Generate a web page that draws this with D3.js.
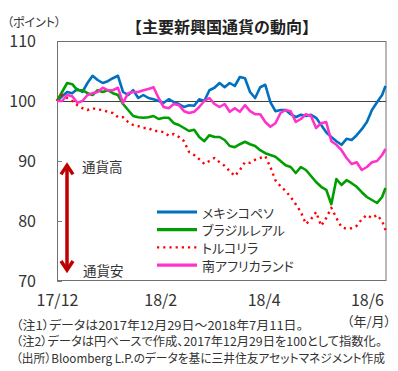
<!DOCTYPE html>
<html>
<head>
<meta charset="utf-8">
<script src="https://cdn.jsdelivr.net/npm/d3@7"></script>
<style>
  body { margin: 0; background: #fff; }
  text { font-family: "Noto Sans CJK JP", "Noto Sans", sans-serif; fill: #333; }
  .palt { font-feature-settings: "palt"; }
</style>
</head>
<body>
<div id="chart"></div>
<script>
// Data (index, 2017/12/29 = 100)
const dates = [
  "2017-12-29","2018-01-01","2018-01-04","2018-01-07","2018-01-10","2018-01-13","2018-01-16","2018-01-19",
  "2018-01-22","2018-01-25","2018-01-28","2018-01-31","2018-02-03","2018-02-06","2018-02-09","2018-02-12",
  "2018-02-15","2018-02-18","2018-02-21","2018-02-24","2018-02-27","2018-03-02","2018-03-05","2018-03-08",
  "2018-03-11","2018-03-14","2018-03-17","2018-03-20","2018-03-23","2018-03-26","2018-03-29","2018-04-01",
  "2018-04-04","2018-04-07","2018-04-10","2018-04-13","2018-04-16","2018-04-19","2018-04-22","2018-04-25",
  "2018-04-28","2018-05-01","2018-05-04","2018-05-07","2018-05-10","2018-05-13","2018-05-16","2018-05-19",
  "2018-05-22","2018-05-25","2018-05-28","2018-05-31","2018-06-03","2018-06-06","2018-06-09","2018-06-12",
  "2018-06-15","2018-06-18","2018-06-21","2018-06-24","2018-06-27","2018-06-30","2018-07-03","2018-07-06",
  "2018-07-09","2018-07-11"
];

const mexicoPeso = [
  100, 100.8, 101.5, 101.3, 102, 101.5, 103, 104.2, 103.5, 103, 103.3, 103.8, 104.2, 101.5, 101,
  101.8, 100.5, 101, 100.5, 100.3, 100, 99.7, 100.3, 99.8, 99.5,
  99, 99.3, 99.2, 100.3, 100, 101.8, 102.2, 103, 102.3, 103, 102.5, 104, 103.8, 101.5, 100.5,
  102.3, 102.7, 99.8, 98.3, 98.5, 98.5, 97.8, 97.3, 97.7, 97.5, 97.7, 97.2, 96, 94.8,
  94, 93.3, 92.7, 93.7, 93.5, 94.3, 95.3, 96.5, 98.5, 99.8, 101, 102.5
];
const brazilReal = [
  100, 101.5, 103, 102.8, 101.8, 101.8, 101.3, 101, 101.8, 101.5, 101.8, 101.3, 101, 99.5, 98.5,
  97.5, 97.3, 97.2, 97.3, 97.5, 97, 97.2, 97.2, 96.3, 96,
  95.5, 95, 95.2, 94, 93.3, 94.3, 94, 94, 93.5, 92.5, 92.3, 92.8, 93.2, 92.8, 92.5,
  91.8, 91.3, 91, 90.7, 90, 89.3, 89, 88, 89, 88.5, 87.5, 86.5, 85.7, 85.2,
  82.8, 87, 86, 86.8, 86.3, 85.7, 84.8, 84, 83.5, 83, 84, 85.5
];
const turkeyLira = [
  100, 101, 100.5, 100, 99.3, 98.8, 98.5, 98.8, 98.6, 98.5, 98.2, 98, 97.3, 97.3, 96.5,
  96, 95.8, 95.5, 95.5, 95, 95, 94.8, 94.2, 94.5, 94,
  93.3, 91.5, 91, 90.3, 89.5, 90, 90.5, 89.8, 89.2, 88.3, 87.5, 88.5, 89.8, 89.7, 90.2,
  90.5, 90.8, 89, 86.8, 85.8, 85, 84, 82.8, 81.5, 79.5, 80.3, 81.5, 79.2, 80.5,
  82.2, 80.5, 79, 78.7, 78.8, 79.2, 80.3, 81, 80.5, 81, 80, 78.5
];
const southAfricaRand = [
  100, 100, 101, 100.8, 99.7, 100, 101, 101.3, 101.5, 102.2, 101.8, 101.8, 102.2, 99.7, 101.3,
  101.5, 101.5, 101.8, 102, 102.3, 100.5, 99, 98.8, 99.5, 99.3,
  98.3, 98, 98.2, 99, 100, 100.5, 99.5, 99, 99.5, 98.2, 98.8, 98.2, 99.3, 98.3, 97.8,
  97.8, 96.5, 95.7, 96.3, 98, 98.5, 98.3, 96.5, 97, 97.8, 97.5, 95.5, 96.3, 96.5,
  93.3, 92.7, 91.8, 90.5, 89.5, 89.8, 88.5, 89, 89.8, 90, 91, 92
];

const seriesNames = ["メキシコペソ", "ブラジルレアル", "トルコリラ", "南アフリカランド"];
const seriesColors = ["#0070c0", "#009e00", "#ff0000", "#ff33cc"];
const yTicks = [70, 80, 90, 100, 110];
const xTickDates = ["2017-12-29", "2018-02-28", "2018-04-30", "2018-06-30"];
const xTickLabels = ["17/12", "18/2", "18/4", "18/6"];
const notes = [
  "（注1）データは2017年12月29日～2018年7月11日。",
  "（注2）データは円ベースで作成、2017年12月29日を100として指数化。",
  "（出所）Bloomberg L.P.のデータを基に三井住友アセットマネジメント作成"
];

const W = 398, H = 371;
const margin = { top: 41, right: 12, bottom: 90, left: 57 };
const parseDate = d3.timeParse("%Y-%m-%d");

const svg = d3.select("#chart").append("svg")
  .attr("width", W).attr("height", H);

const x = d3.scaleTime()
  .domain([parseDate(dates[0]), parseDate(dates[dates.length - 1])])
  .range([margin.left, W - margin.right - 0.5]);
const y = d3.scaleLinear()
  .domain([70, 110])
  .range([H - margin.bottom, margin.top]);

// title
svg.append("text")
  .attr("x", 222).attr("y", 26)
  .attr("text-anchor", "middle").attr("dominant-baseline", "central")
  .attr("font-size", 16).attr("font-weight", "bold")
  .style("fill", "#222")
  .text("【主要新興国通貨の動向】");

svg.append("text")
  .attr("class", "palt")
  .attr("x", 7).attr("y", 21)
  .attr("dominant-baseline", "central")
  .attr("font-size", 12)
  .text("（ポイント）");

// y axis labels + inner ticks
const yAxis = svg.append("g")
  .attr("transform", `translate(${margin.left},0)`)
  .call(d3.axisLeft(y).tickValues(yTicks).tickSizeInner(-5).tickSizeOuter(0).tickPadding(21));
yAxis.select(".domain").remove();
yAxis.selectAll("line").attr("stroke", "#808080");
yAxis.selectAll("text")
  .attr("font-size", 16)
  .attr("font-family", "Noto Sans CJK JP")
  .style("fill", "#333");

// plot frame
svg.append("rect")
  .attr("x", x.range()[0] + 0.5).attr("y", y(110) + 0.5)
  .attr("width", x.range()[1] - x.range()[0])
  .attr("height", y(70) - y(110) - 1)
  .attr("fill", "none").attr("stroke", "#707070").attr("stroke-width", 1);

// 100 reference line
svg.append("line")
  .attr("x1", x.range()[0]).attr("x2", x.range()[1] + 0.5)
  .attr("y1", Math.round(y(100)) + 0.5).attr("y2", Math.round(y(100)) + 0.5)
  .attr("stroke", "#404040").attr("stroke-width", 1.2);

// x axis labels
const xAxis = svg.append("g")
  .attr("transform", `translate(0,${y(70)})`)
  .call(d3.axisBottom(x)
    .tickValues(xTickDates.map(parseDate))
    .tickFormat((d, i) => xTickLabels[i])
    .tickSize(0).tickPadding(14));
xAxis.select(".domain").remove();
xAxis.selectAll("text")
  .attr("font-size", 16)
  .attr("font-family", "Noto Sans CJK JP")
  .style("fill", "#333");

svg.append("text")
  .attr("class", "palt")
  .attr("x", 391).attr("y", 320)
  .attr("text-anchor", "end").attr("dominant-baseline", "central")
  .attr("font-size", 13)
  .text("（年/月）");

// series
const allSeries = [mexicoPeso, brazilReal, turkeyLira, southAfricaRand];
const line = d3.line()
  .x((d, i) => x(parseDate(dates[i])))
  .y(d => y(d));

allSeries.forEach((vals, k) => {
  const p = svg.append("path")
    .datum(vals)
    .attr("fill", "none")
    .attr("stroke", seriesColors[k])
    .attr("stroke-linejoin", "round")
    .attr("d", line);
  if (k === 2) {
    p.attr("stroke-width", 2.4).attr("stroke-dasharray", "2.2,4");
  } else {
    p.attr("stroke-width", 2.6);
  }
});

// arrow 通貨高 / 通貨安
const ax = x.range()[0] + 10;
const aTop = y(89.6), aBot = y(71.5);
svg.append("line")
  .attr("x1", ax).attr("x2", ax).attr("y1", aTop + 2).attr("y2", aBot - 2)
  .attr("stroke", "#c00000").attr("stroke-width", 3.5);
svg.append("path")
  .attr("d", `M${ax - 6},${aTop + 11} L${ax},${aTop + 2} L${ax + 6},${aTop + 11}`)
  .attr("fill", "none").attr("stroke", "#c00000").attr("stroke-width", 3.5);
svg.append("path")
  .attr("d", `M${ax - 6},${aBot - 11} L${ax},${aBot - 2} L${ax + 6},${aBot - 11}`)
  .attr("fill", "none").attr("stroke", "#c00000").attr("stroke-width", 3.5);

svg.append("text")
  .attr("x", ax + 15).attr("y", y(89.2))
  .attr("dominant-baseline", "central")
  .attr("font-size", 13.5)
  .text("通貨高");
svg.append("text")
  .attr("x", ax + 16).attr("y", y(71.8))
  .attr("dominant-baseline", "central")
  .attr("font-size", 13.5)
  .text("通貨安");

// legend
const legend = svg.append("g").attr("transform", "translate(157,212)");
seriesNames.forEach((name, k) => {
  const g = legend.append("g").attr("transform", `translate(0,${k * 17.7})`);
  const l = g.append("line")
    .attr("x1", 0).attr("x2", 40).attr("y1", 0).attr("y2", 0)
    .attr("stroke", seriesColors[k]);
  if (k === 2) l.attr("stroke-width", 2.4).attr("stroke-dasharray", "2.2,4");
  else l.attr("stroke-width", 3.2);
  g.append("text")
    .attr("class", "palt")
    .attr("x", 45).attr("y", 0)
    .attr("dominant-baseline", "central")
    .attr("font-size", 13)
    .text(name);
});

// notes
const noteWidths = [287, 366, 369];
notes.forEach((t, i) => {
  svg.append("text")
    .attr("class", "palt")
    .attr("x", 16).attr("y", 324 + i * 16.5)
    .attr("dominant-baseline", "central")
    .attr("font-size", 12)
    .attr("textLength", noteWidths[i])
    .attr("lengthAdjust", "spacingAndGlyphs")
    .text(t);
});
</script>
</body>
</html>
